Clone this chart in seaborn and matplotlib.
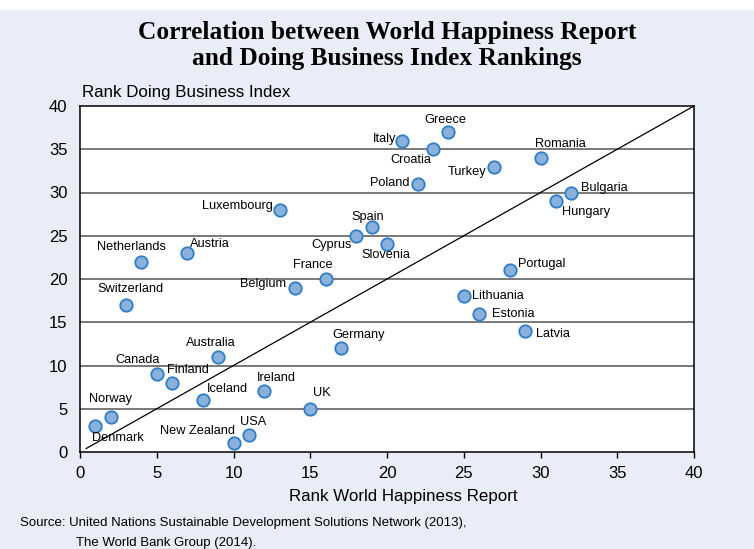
import matplotlib
matplotlib.use("Agg")
import matplotlib.pyplot as plt
import seaborn as sns
import pandas as pd
from matplotlib.patches import Rectangle

countries = ["Denmark", "Norway", "Switzerland", "Netherlands", "Canada", "Finland",
             "Austria", "Iceland", "Australia", "New Zealand", "USA", "Ireland",
             "Luxembourg", "Belgium", "UK", "France", "Germany", "Cyprus", "Spain",
             "Slovenia", "Italy", "Poland", "Croatia", "Greece", "Lithuania", "Estonia",
             "Turkey", "Portugal", "Latvia", "Romania", "Hungary", "Bulgaria"]
happiness_rank = [1, 2, 3, 4, 5, 6, 7, 8, 9, 10, 11, 12, 13, 14, 15, 16, 17, 18, 19,
                  20, 21, 22, 23, 24, 25, 26, 27, 28, 29, 30, 31, 32]
business_rank = [3, 4, 17, 22, 9, 8, 23, 6, 11, 1, 2, 7, 28, 19, 5, 20, 12, 25, 26,
                 24, 36, 31, 35, 37, 18, 16, 33, 21, 14, 34, 29, 30]

df = pd.DataFrame({"country": countries, "happy": happiness_rank, "business": business_rank})

# label placement (pixel offset from point, horizontal alignment)
label_pos = {
    "Denmark": (-3, -12, "left"), "Norway": (0, 18, "center"),
    "Switzerland": (4, 16, "center"), "Netherlands": (-10, 15, "center"),
    "Canada": (-19, 14, "center"), "Finland": (-5, 13, "left"),
    "Austria": (3, 9, "left"), "Iceland": (4, 11, "left"),
    "Australia": (-7, 14, "center"), "New Zealand": (2, 12, "right"),
    "USA": (4, 13, "center"), "Ireland": (-7, 13, "left"),
    "Luxembourg": (-7, 4, "right"), "Belgium": (-9, 4, "right"),
    "UK": (3, 16, "left"), "France": (-13, 14, "center"),
    "Germany": (18, 13, "center"), "Cyprus": (-5, -9, "right"),
    "Spain": (-4, 10, "center"), "Slovenia": (-26, -11, "left"),
    "Italy": (-6, 2, "right"), "Poland": (-8, 1, "right"),
    "Croatia": (-2, -11, "right"), "Greece": (-3, 12, "center"),
    "Lithuania": (8, 0, "left"), "Estonia": (13, 0, "left"),
    "Turkey": (-8, -5, "right"), "Portugal": (8, 6, "left"),
    "Latvia": (11, -3, "left"), "Romania": (-5, 14, "left"),
    "Hungary": (6, -11, "left"), "Bulgaria": (10, 5, "left"),
}

bg = "#E9EDF8"
fig = plt.figure(figsize=(7.54, 5.49), dpi=100, facecolor=bg)
fig.patches.append(Rectangle((0, 1 - 10 / 549), 1, 10 / 549, transform=fig.transFigure,
                             facecolor="white", edgecolor="none", zorder=-1))
ax = fig.add_axes([80 / 754, 97 / 549, 614 / 754, 346 / 549])
ax.set_facecolor("white")

for y in range(5, 40, 5):
    ax.axhline(y, color="#555555", lw=1.1, zorder=1)
ax.plot([0.4, 40], [0.4, 40], color="black", lw=0.9, zorder=2)

sns.scatterplot(data=df, x="happy", y="business", ax=ax, s=80, color="#8AB0DC",
                edgecolor="#2F7DC6", linewidth=1.3, zorder=3, legend=False)

for c, xv, yv in zip(countries, happiness_rank, business_rank):
    dx, dy, ha = label_pos[c]
    ax.annotate(c, (xv, yv), xytext=(dx, dy), textcoords="offset pixels",
                ha=ha, va="center", fontsize=9.2, family="Liberation Sans", zorder=4)

ax.set_xlim(0, 40)
ax.set_ylim(0, 40)
ax.set_xticks(range(0, 41, 5))
ax.set_yticks(range(0, 41, 5))
ax.tick_params(axis="x", direction="out", length=4, width=1, labelsize=12, pad=6)
ax.tick_params(axis="y", length=0, labelsize=12, pad=9)
for lab in ax.get_xticklabels() + ax.get_yticklabels():
    lab.set_family("Liberation Sans")
for s in ax.spines.values():
    s.set_color("black")
    s.set_linewidth(1.1)
ax.set_xlabel("")
ax.set_ylabel("")

fig.text(403 / 754, 1 - 496 / 549, "Rank World Happiness Report", ha="center", va="center",
         fontsize=12.2, family="Liberation Sans")
fig.text(82 / 754, 1 - 92 / 549, "Rank Doing Business Index", ha="left", va="center",
         fontsize=12.2, family="Liberation Sans")
fig.text(387 / 754, 1 - 32 / 549, "Correlation between World Happiness Report",
         ha="center", va="center", fontsize=18.3, fontweight="bold", family="Liberation Serif")
fig.text(387 / 754, 1 - 58 / 549, "and Doing Business Index Rankings",
         ha="center", va="center", fontsize=18.3, fontweight="bold", family="Liberation Serif")
fig.text(20 / 754, 1 - 523 / 549,
         "Source: United Nations Sustainable Development Solutions Network (2013),",
         ha="left", va="center", fontsize=9.5, family="Liberation Sans")
fig.text(76 / 754, 1 - 543 / 549, "The World Bank Group (2014).",
         ha="left", va="center", fontsize=9.5, family="Liberation Sans")

fig.savefig("out.png", dpi=100, facecolor=bg)
